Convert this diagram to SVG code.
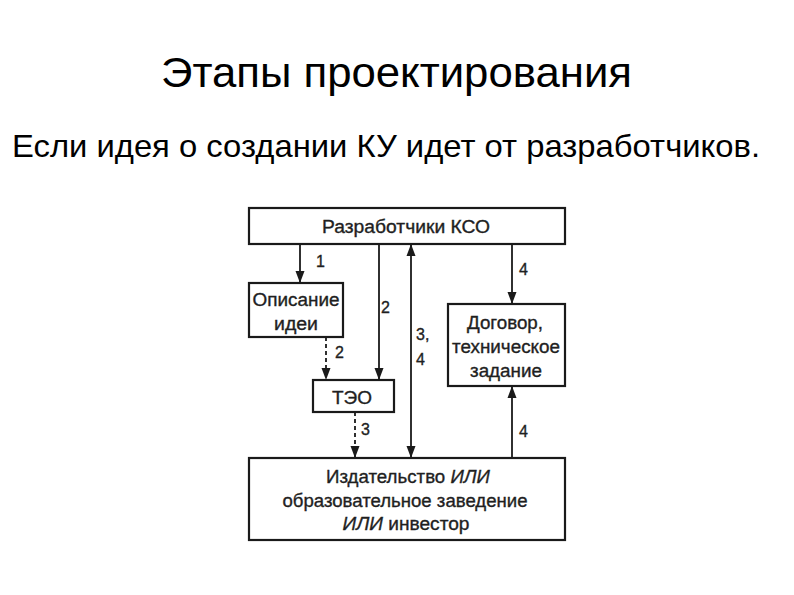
<svg xmlns="http://www.w3.org/2000/svg" width="794" height="595" viewBox="0 0 794 595">
<defs>
<marker id="ah" viewBox="0 0 12 10" refX="12" refY="5" markerWidth="12" markerHeight="10" markerUnits="userSpaceOnUse" orient="auto-start-reverse">
<path d="M0,0.5 L12,5 L0,9.5 z" fill="#1a1a1a"/>
</marker>
<style>
.box{fill:#fff;stroke:#1a1a1a;stroke-width:2.2}
.ln{stroke:#1a1a1a;stroke-width:1.8;fill:none}
.dash{stroke-dasharray:4 3}
.t{font-family:"Liberation Sans",Arial,sans-serif;font-size:18px;fill:#1f1f1f;stroke:#1f1f1f;stroke-width:0.35;text-anchor:middle}
.lbl{font-family:"Liberation Sans",Arial,sans-serif;font-size:16px;fill:#1f1f1f;stroke:#1f1f1f;stroke-width:0.35}
.it{font-style:italic}
</style>
</defs>
<rect width="794" height="595" fill="#fff"/>
<text x="161" y="87" font-family="Liberation Sans,Arial,sans-serif" font-size="42" textLength="471" lengthAdjust="spacingAndGlyphs" fill="#000">Этапы проектирования</text>
<text x="12" y="157" font-family="Liberation Sans,Arial,sans-serif" font-size="32" textLength="748" lengthAdjust="spacingAndGlyphs" fill="#000">Если идея о создании КУ идет от разработчиков.</text>

<g id="connectors">
<line class="ln" x1="300" y1="244" x2="300" y2="283" marker-end="url(#ah)"/>
<text class="lbl" x="316" y="267">1</text>
<line class="ln" x1="379" y1="244" x2="379" y2="380" marker-end="url(#ah)"/>
<text class="lbl" x="381" y="313">2</text>
<line class="ln" x1="411" y1="244" x2="411" y2="458" marker-start="url(#ah)" marker-end="url(#ah)"/>
<text class="lbl" x="416" y="340">3,</text>
<text class="lbl" x="416" y="365">4</text>
<line class="ln" x1="512" y1="244" x2="512" y2="304" marker-end="url(#ah)"/>
<text class="lbl" x="519" y="275">4</text>
<line class="ln dash" x1="326" y1="337" x2="326" y2="380" marker-end="url(#ah)"/>
<text class="lbl" x="335" y="358">2</text>
<line class="ln dash" x1="355" y1="412" x2="355" y2="458" marker-end="url(#ah)"/>
<text class="lbl" x="361" y="435">3</text>
<line class="ln" x1="512" y1="458" x2="512" y2="386" marker-end="url(#ah)"/>
<text class="lbl" x="519" y="437">4</text>
</g>

<g id="razrabotchiki">
<rect class="box" x="249" y="208" width="316" height="36"/>
<text class="t" x="406" y="233" textLength="168" lengthAdjust="spacingAndGlyphs">Разработчики КСО</text>
</g>
<g id="opisanie">
<rect class="box" x="249" y="283" width="94" height="54"/>
<text class="t" x="296" y="306" textLength="87" lengthAdjust="spacingAndGlyphs">Описание</text>
<text class="t" x="296" y="330" textLength="44" lengthAdjust="spacingAndGlyphs">идеи</text>
</g>
<g id="teo">
<rect class="box" x="313" y="380" width="81" height="32"/>
<text class="t" x="352" y="404" textLength="40" lengthAdjust="spacingAndGlyphs">ТЭО</text>
</g>
<g id="dogovor">
<rect class="box" x="448" y="304" width="117" height="82"/>
<text class="t" x="505" y="329" textLength="76" lengthAdjust="spacingAndGlyphs">Договор,</text>
<text class="t" x="506" y="353" textLength="108" lengthAdjust="spacingAndGlyphs">техническое</text>
<text class="t" x="506" y="377" textLength="72" lengthAdjust="spacingAndGlyphs">задание</text>
</g>
<g id="izdatelstvo">
<rect class="box" x="249" y="458" width="316" height="82"/>
<text class="t" x="408" y="483" textLength="164" lengthAdjust="spacingAndGlyphs">Издательство <tspan class="it">ИЛИ</tspan></text>
<text class="t" x="405" y="507" textLength="245" lengthAdjust="spacingAndGlyphs">образовательное заведение</text>
<text class="t" x="406" y="530" textLength="127" lengthAdjust="spacingAndGlyphs"><tspan class="it">ИЛИ</tspan> инвестор</text>
</g>
</svg>
